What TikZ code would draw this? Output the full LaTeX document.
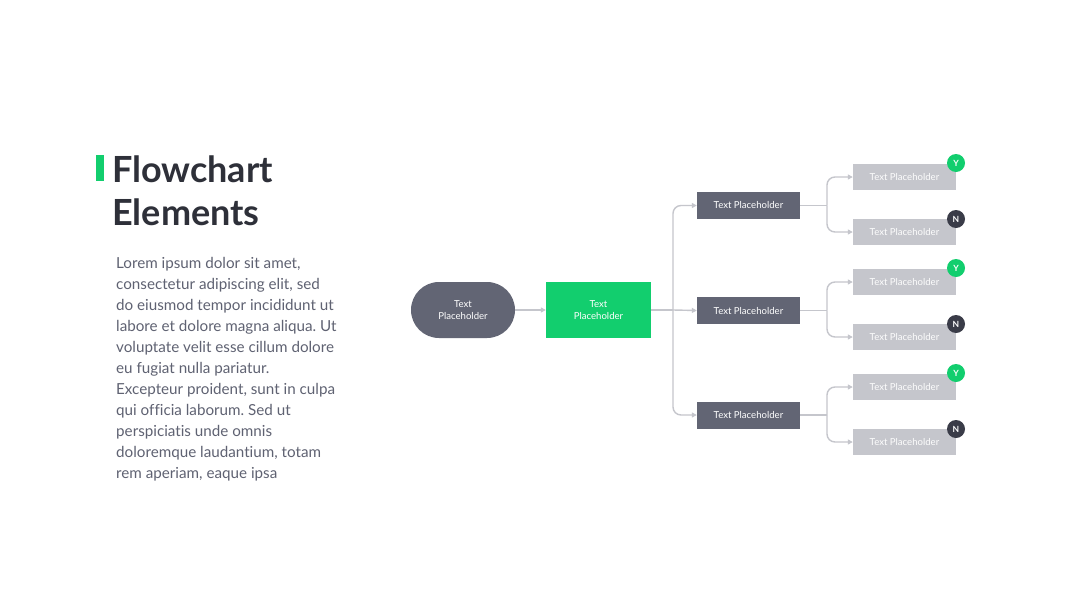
\documentclass[tikz,border=0pt]{standalone}
\usepackage{fontspec}
\setmainfont{Lato}[Ligatures={NoCommon}]
\usetikzlibrary{arrows.meta,calc}
\definecolor{dk}{HTML}{626574}
\definecolor{gr}{HTML}{12CE6E}
\definecolor{lt}{HTML}{C5C6CC}
\definecolor{ink}{HTML}{2E3039}
\definecolor{body}{HTML}{5F6272}
\definecolor{nb}{HTML}{3A3C48}
\tikzset{
  box/.style={inner sep=0pt, text=white, font=\fontsize{9.6}{12}\selectfont, align=center},
  pill/.style={box, fill=dk, rounded corners=28pt, minimum width=104pt, minimum height=56pt},
  gbox/.style={box, fill=gr, minimum width=105pt, minimum height=56pt},
  dbox/.style={box, fill=dk, minimum width=103pt, minimum height=27pt},
  lbox/.style={box, fill=lt, minimum width=103pt, minimum height=26pt, text=white!96!lt},
  conn/.style={draw=lt, line width=1.4pt, rounded corners=8pt, -{Triangle[length=5pt,width=5pt]}},
  plain/.style={draw=lt, line width=1.4pt},
  badge/.style={circle, inner sep=0pt, minimum size=18pt, text=white, font=\bfseries\fontsize{8.5}{8.5}\selectfont},
}
\begin{document}
\frenchspacing
\begin{tikzpicture}[x=1pt,y=-1pt]
\useasboundingbox[fill=white] (0,0) rectangle (1080,608);
% title
\fill[gr] (96,155) rectangle (104,181);
\node[anchor=base west, inner sep=0pt, text=ink, font=\bfseries\fontsize{36}{43}\selectfont] (t1) at (112,182) {Flowchart};
\node[anchor=base west, inner sep=0pt, text=ink, font=\bfseries\fontsize{36}{43}\selectfont] (t2) at (112,225) {Elements};
\node[anchor=north west, inner sep=0pt, text=body, align=left, font=\fontsize{15.2}{21}\selectfont] (bt) at (116,257) {Lorem ipsum dolor sit amet,\\consectetur adipiscing elit, sed\\do eiusmod tempor incididunt ut\\labore et dolore magna aliqua. Ut\\voluptate velit esse cillum dolore\\eu fugiat nulla pariatur.\\Excepteur proident, sunt in culpa\\qui officia laborum. Sed ut\\perspiciatis unde omnis\\doloremque laudantium, totam\\rem aperiam, eaque ipsa};
% nodes
\node[pill] (p) at (463,310) {Text\\Placeholder};
\node[gbox] (g) at (598.5,310) {Text\\Placeholder};
\node[dbox] (d1) at (748.5,205.5) {Text Placeholder};
\node[dbox] (d2) at (748.5,310.5) {Text Placeholder};
\node[dbox] (d3) at (748.5,415) {Text Placeholder};
\node[lbox] (l1) at (904.5,177) {Text Placeholder};
\node[lbox] (l2) at (904.5,232) {Text Placeholder};
\node[lbox] (l3) at (904.5,282) {Text Placeholder};
\node[lbox] (l4) at (904.5,337) {Text Placeholder};
\node[lbox] (l5) at (904.5,387) {Text Placeholder};
\node[lbox] (l6) at (904.5,442) {Text Placeholder};
\node[badge, fill=gr] (b1) at (956,163) {Y};
\node[badge, fill=nb] (b2) at (956,219) {N};
\node[badge, fill=gr] (b3) at (956,268) {Y};
\node[badge, fill=nb] (b4) at (956,324) {N};
\node[badge, fill=gr] (b5) at (956,373) {Y};
\node[badge, fill=nb] (b6) at (956,429) {N};
% connectors
\draw[conn] (p.east) -- (g.west);
\coordinate (j0) at (673,310);
\draw[plain] (g.east) -- (j0);
\draw[conn] (j0) |- (d1.west);
\draw[conn] (j0) -- (d2.west);
\draw[conn] (j0) |- (d3.west);
\coordinate (j1) at (827,205.5);
\coordinate (j2) at (827,310.5);
\coordinate (j3) at (827,415);
\draw[plain] (d1.east) -- (j1);
\draw[plain] (d2.east) -- (j2);
\draw[plain] (d3.east) -- (j3);
\draw[conn] (j1) |- (l1.west);
\draw[conn] (j1) |- (l2.west);
\draw[conn] (j2) |- (l3.west);
\draw[conn] (j2) |- (l4.west);
\draw[conn] (j3) |- (l5.west);
\draw[conn] (j3) |- (l6.west);
\end{tikzpicture}
\end{document}
